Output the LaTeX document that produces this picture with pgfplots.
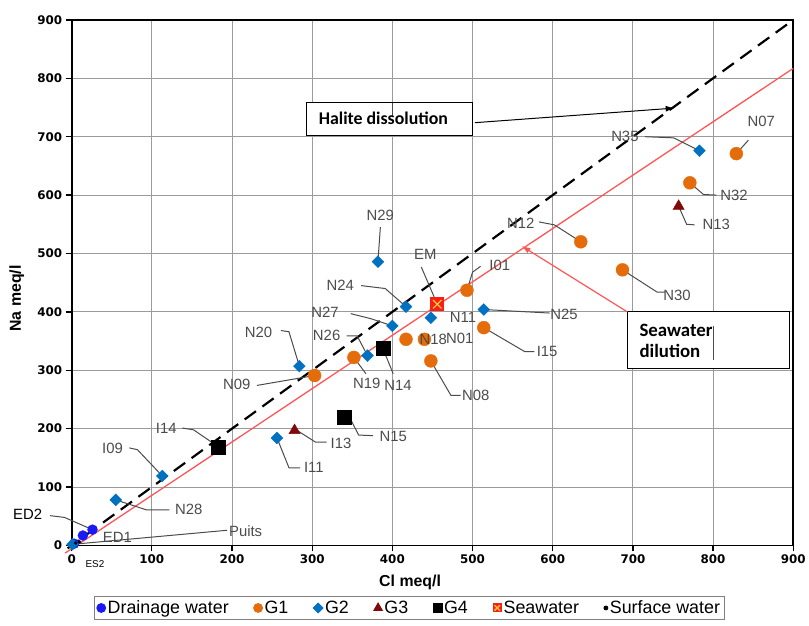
\documentclass[border=0pt]{standalone}
\usepackage{pgfplots}
\pgfplotsset{compat=1.18}
\usepackage{fontspec}
\setmainfont{Liberation Sans}
\newfontfamily\boxfont{Carlito}
\newfontfamily\tickfont{DejaVu Sans}
\usetikzlibrary{arrows.meta}

\definecolor{drainblue}{RGB}{25,25,245}
\definecolor{gone}{RGB}{228,108,10}
\definecolor{gtwo}{RGB}{0,112,192}
\definecolor{gthree}{RGB}{128,10,10}
\definecolor{gridgray}{RGB}{155,155,155}
\definecolor{labgray}{RGB}{75,75,75}
\definecolor{mixred}{RGB}{255,85,85}
\definecolor{seared}{RGB}{250,30,20}
\definecolor{seayellow}{RGB}{255,200,60}

% red square with a yellow cross for the seawater sample
\pgfdeclareplotmark{seawater}{%
  \pgfpathrectangle{\pgfpoint{-\pgfplotmarksize}{-\pgfplotmarksize}}{\pgfpoint{2\pgfplotmarksize}{2\pgfplotmarksize}}%
  \pgfsetfillcolor{seared}\pgfusepathqfill
  \pgfsetstrokecolor{seayellow}\pgfsetlinewidth{1.3bp}%
  \pgfpathmoveto{\pgfpoint{-0.6\pgfplotmarksize}{-0.6\pgfplotmarksize}}%
  \pgfpathlineto{\pgfpoint{0.6\pgfplotmarksize}{0.6\pgfplotmarksize}}%
  \pgfpathmoveto{\pgfpoint{-0.6\pgfplotmarksize}{0.6\pgfplotmarksize}}%
  \pgfpathlineto{\pgfpoint{0.6\pgfplotmarksize}{-0.6\pgfplotmarksize}}%
  \pgfusepathqstroke}

\begin{document}
\begin{tikzpicture}[
  leader/.style={labgray, line width=1bp},
  lab/.style={text=labgray, font=\fontsize{15}{15}\selectfont, inner sep=0pt}]
\begin{axis}[
  name=ax,
  set layers=standard,
  scale only axis, width=725bp, height=528bp,
  xmin=0, xmax=900, ymin=0, ymax=900,
  xtick={0,100,...,900}, ytick={0,100,...,900},
  grid=major, major grid style={gridgray, line width=1bp},
  axis line style={black, line width=1.8bp},
  tick style={black, line width=1.3bp}, tick align=outside, major tick length=6bp,
  xtick pos=bottom, ytick pos=left,
  /pgf/number format/assume math mode=true,
  ticklabel style={font=\tickfont\bfseries\fontsize{12}{12}\selectfont},
  xlabel={Cl meq/l}, ylabel={Na meq/l},
  xlabel style={font=\bfseries\fontsize{16}{16}\selectfont, at={(0.469,-0.070)}, anchor=center},
  ylabel style={font=\bfseries\fontsize{16}{16}\selectfont, at={(-0.076,0.47)}, anchor=center},
  clip=false,
  legend columns=7,
  legend style={at={(0.468,-0.119)}, anchor=center, draw=gray, line width=0.8bp,
    font=\fontsize{18}{18}\selectfont, inner sep=2bp,
    /tikz/every even column/.append style={column sep=23bp}},
  legend image code/.code={\draw[#1] plot coordinates {(0bp,0bp)};},
]
% 1:1 line and seawater mixing line
\addplot[black, line width=2.2bp, dash pattern=on 14bp off 8bp, forget plot] coordinates {(-5,-5) (893,893)};
\addplot[mixred, line width=1.3bp, forget plot] coordinates {(-8,-13) (900,817)};

% leader lines
\draw[leader] (844,694) -- (829,671);
\draw[leader] (715,700) -- (751,698) -- (783,676);
\draw[leader] (771,621) -- (788,601) -- (804,600);
\draw[leader] (757,581) -- (767,550) -- (777,549);
\draw[leader] (583,554) -- (602,549) -- (635,520);
\draw[leader] (687,472) -- (730,434) -- (740,434);
\draw[leader] (514,404) -- (596,398);
\draw[leader] (514,373) -- (565,332) -- (577,332);
\draw[leader] (493,437) -- (500,468) -- (510,478);
\draw[leader] (436,477) -- (456,413);
\draw[leader] (448,316) -- (473,257) -- (485,257);
\draw[leader] (361,445) -- (391,440) -- (417,409);
\draw[leader] (348,397) -- (374,388) -- (400,376);
\draw[leader] (343,359) -- (356,359) -- (369,325);
\draw[leader] (261,368) -- (271,366) -- (284,307);
\draw[leader] (231,274) -- (303,291);
\draw[leader] (352,322) -- (367,294);
\draw[leader] (388,338) -- (401,294);
\draw[leader] (385,545) -- (382,486);
\draw[leader] (349,213) -- (358,189) -- (376,188);
\draw[leader] (280,198) -- (304,177) -- (318,177);
\draw[leader] (257,181) -- (271,133) -- (285,133);
\draw[leader] (138,201) -- (152,198) -- (183,169);
\draw[leader] (72,167) -- (82,164) -- (113,119);
\draw[leader] (55,78) -- (93,61) -- (122,61);
\draw[leader] (-27,51) -- (-9,48) -- (26,27);
\draw[leader] (194,26) -- (10,3);

% samples
\addplot[only marks, mark=*, drainblue, mark size=5bp, legend image post style={mark size=4.5bp}]
  coordinates {(3,3) (14,17) (26,27)};
\addlegendentry{Drainage water}
\addplot[only marks, mark=*, gone, mark size=6.5bp, legend image post style={mark size=4.5bp}]
  coordinates {(829,671) (771,621) (635,520) (687,472) (493,437) (514,373)
               (417,353) (440,353) (448,316) (352,322) (303,291)};
\addlegendentry{G1}
\addplot[only marks, mark=square*, mark options={rotate=45}, gtwo, mark size=4.2bp, legend image post style={mark size=3.5bp}]
  coordinates {(783,676) (382,486) (417,409) (400,376) (448,390) (514,404)
               (369,325) (284,307) (256,184) (113,119) (55,78) (1,2)};
\addlegendentry{G2}
\addplot[only marks, mark=triangle*, gthree, mark size=6.5bp, legend image post style={mark size=5bp}]
  coordinates {(757,581) (278,197)};
\addlegendentry{G3}
\addplot[only marks, mark=square*, black, mark size=7bp, legend image post style={mark size=4.5bp}]
  coordinates {(388,338) (340,219) (183,169)};
\addlegendentry{G4}
\addplot[only marks, mark=seawater, mark size=7bp, legend image post style={mark size=4.5bp}]
  coordinates {(456,413)};
\addlegendentry{Seawater}
\addplot[only marks, mark=*, black, mark size=1.5bp, legend image post style={mark size=2bp}]
  coordinates {(5,4) (10,6)};
\addlegendentry{Surface water}

% sample names, on top of the marks
\begin{pgfonlayer}{axis foreground}
\node[lab] at (860,727) {N07};
\node[lab] at (690,700) {N35};
\node[lab] at (826,600) {N32};
\node[lab] at (804,550) {N13};
\node[lab] at (560,552) {N12};
\node[lab] at (755,429) {N30};
\node[lab] at (614,395) {N25};
\node[lab] at (593,333) {I15};
\node[lab] at (534,479) {I01};
\node[lab] at (441,499) {EM};
\node[lab] at (488,390) {N11};
\node[lab] at (451,353) {N18};
\node[lab] at (484,354) {N01};
\node[lab] at (504,257) {N08};
\node[lab] at (335,445) {N24};
\node[lab] at (316,399) {N27};
\node[lab] at (318,359) {N26};
\node[lab] at (233,365) {N20};
\node[lab] at (206,276) {N09};
\node[lab] at (368,278) {N19};
\node[lab] at (407,274) {N14};
\node[lab] at (385,565) {N29};
\node[lab] at (401,187) {N15};
\node[lab] at (336,174) {I13};
\node[lab] at (302,133) {I11};
\node[lab] at (118,201) {I14};
\node[lab] at (51,167) {I09};
\node[lab] at (146,61) {N28};
\node[lab, text=black] at (-55,53) {ED2};
\node[lab] at (57,14) {ED1};
\node[lab] at (217,24) {Puits};
\node[lab, text=black, font=\fontsize{10}{10}\selectfont] at (29,-32) {ES2};

% process boxes
\draw[black, line width=1.2bp, fill=white] (293,702) rectangle (500,758);
\draw[black!70, line width=1bp] (400,758) -- (400,733);
\node[font=\boxfont\bfseries\fontsize{18}{18}\selectfont, anchor=west, inner sep=0pt] at (308,731) {Halite dissolution};
\draw[-{Latex[length=9bp,width=6bp]}, black, line width=1bp] (503,724) -- (752,749);

\draw[black, line width=1.2bp, fill=white] (693,400) rectangle (895,303);
\draw[black!70, line width=1bp] (800,376) -- (800,317);
\node[font=\boxfont\bfseries\fontsize{19}{21}\selectfont, anchor=west, align=left, inner sep=0pt] at (708,350) {Seawater\\dilution};
\draw[-{Latex[length=9bp,width=6bp]}, mixred, line width=1.2bp] (693,400) -- (561,513);
\end{pgfonlayer}
\end{axis}
\path (ax.south west) ++(-72bp,-80bp) rectangle ([shift={(12bp,20bp)}]ax.north east);
\end{tikzpicture}
\end{document}
